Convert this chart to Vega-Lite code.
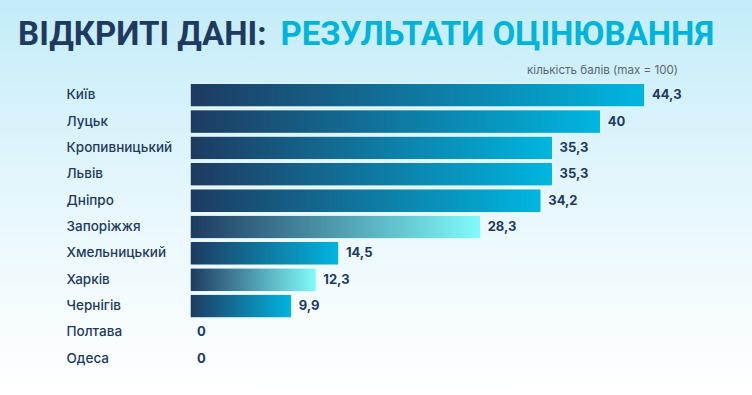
{
  "$schema": "https://vega.github.io/schema/vega-lite/v6.json",
  "width": 752,
  "height": 395,
  "autosize": {"type": "none"},
  "padding": 0,
  "background": "#ffffff",
  "title": {
    "text": "кількість балів (max = 100)",
    "anchor": "end",
    "frame": "group",
    "orient": "top",
    "offset": -86,
    "dx": -74,
    "baseline": "alphabetic",
    "font": "Inter",
    "fontSize": 11.6,
    "fontWeight": 400,
    "color": "#5b6577"
  },
  "data": {
    "values": [
      {"city": "Київ", "value": 44.3},
      {"city": "Луцьк", "value": 40},
      {"city": "Кропивницький", "value": 35.3},
      {"city": "Львів", "value": 35.3},
      {"city": "Дніпро", "value": 34.2},
      {"city": "Запоріжжя", "value": 28.3},
      {"city": "Хмельницький", "value": 14.5},
      {"city": "Харків", "value": 12.3},
      {"city": "Чернігів", "value": 9.9},
      {"city": "Полтава", "value": 0},
      {"city": "Одеса", "value": 0}
    ]
  },
  "encoding": {
    "y": {
      "field": "city",
      "type": "nominal",
      "sort": null,
      "scale": {
        "domain": ["Київ", "Луцьк", "Кропивницький", "Львів", "Дніпро", "Запоріжжя", "Хмельницький", "Харків", "Чернігів", "Полтава", "Одеса"],
        "range": [82, 372],
        "paddingInner": 0.1,
        "paddingOuter": 0.05
      },
      "axis": {
        "orient": "left",
        "offset": -66,
        "ticks": false,
        "domain": false,
        "grid": false,
        "labelAlign": "left",
        "labelBaseline": "middle",
        "labelPadding": 0,
        "labelFont": "Inter",
        "labelFontSize": 13.5,
        "labelFontWeight": 500,
        "labelColor": "#1e3a5f",
        "title": "ВІДКРИТІ ДАНІ:",
        "titleAngle": 0,
        "titleX": 200,
        "titleY": 44,
        "titleAlign": "right",
        "titleBaseline": "alphabetic",
        "titleFont": "Roboto",
        "titleFontSize": 33,
        "titleFontWeight": "bold",
        "titleColor": "#1e3a5f"
      }
    },
    "x": {
      "field": "value",
      "type": "quantitative",
      "scale": {"domain": [0, 100], "range": [190, 1217], "nice": false},
      "axis": {
        "orient": "top",
        "ticks": false,
        "labels": false,
        "domain": false,
        "grid": false,
        "title": "РЕЗУЛЬТАТИ ОЦІНЮВАННЯ",
        "titleX": 280,
        "titleY": 44,
        "titleAlign": "left",
        "titleBaseline": "alphabetic",
        "titleFont": "Roboto",
        "titleFontSize": 33,
        "titleFontWeight": "bold",
        "titleColor": "#00b4dc"
      }
    }
  },
  "layer": [
    {
      "transform": [{"filter": "datum.value > 0"}],
      "mark": {"type": "bar", "cornerRadius": 2, "stroke": "#e8f9fd", "strokeWidth": 1},
      "encoding": {
        "fill": {
          "condition": {
            "test": "datum.city === 'Запоріжжя' || datum.city === 'Харків'",
            "value": {
              "gradient": "linear", "x1": 0, "y1": 0, "x2": 1, "y2": 0,
              "stops": [{"offset": 0, "color": "#1e3a60"}, {"offset": 1, "color": "#80fcfb"}]
            }
          },
          "value": {
            "gradient": "linear", "x1": 0, "y1": 0, "x2": 1, "y2": 0,
            "stops": [{"offset": 0, "color": "#1e3a60"}, {"offset": 1, "color": "#00b6e0"}]
          }
        }
      }
    },
    {
      "mark": {
        "type": "text",
        "align": "left",
        "baseline": "middle",
        "dx": 7,
        "font": "Inter",
        "fontSize": 13,
        "fontWeight": "bold",
        "color": "#1e3a5f"
      },
      "encoding": {
        "text": {"field": "value", "type": "quantitative", "format": ".1~f"}
      }
    }
  ],
  "config": {
    "locale": {"number": {"decimal": ",", "thousands": " ", "grouping": [3], "currency": ["", " ₴"]}},
    "view": {
      "stroke": null,
      "fill": {
        "gradient": "linear", "x1": 0, "y1": 0, "x2": 0, "y2": 1,
        "stops": [{"offset": 0, "color": "#c3ecf8"}, {"offset": 0.55, "color": "#e9f8fd"}, {"offset": 1, "color": "#ffffff"}]
      }
    }
  }
}
